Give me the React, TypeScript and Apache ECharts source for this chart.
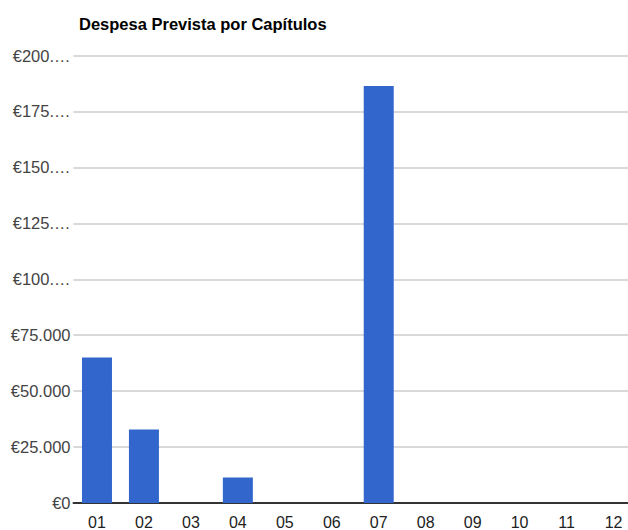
import React, { useEffect, useRef } from "react";
import * as echarts from "echarts";

const categories = ["01", "02", "03", "04", "05", "06", "07", "08", "09", "10", "11", "12"];
const values = [65000, 32800, 0, 11400, 0, 0, 186400, 0, 0, 0, 0, 0];
const yTickLabels = ["€0", "€25.000", "€50.000", "€75.000", "€100.…", "€125.…", "€150.…", "€175.…", "€200.…"];
const yStep = 25000;
const yMax = 200000;
const title = "Despesa Prevista por Capítulos";

const FONT = "'Liberation Sans', Arial, sans-serif";

export default function App() {
  const ref = useRef<HTMLDivElement>(null);
  useEffect(() => {
    if (!ref.current) return;
    const chart = echarts.init(ref.current, undefined, { renderer: "svg" });
    chart.setOption({
      animation: false,
      backgroundColor: "#ffffff",
      title: {
        text: title,
        left: 74,
        top: 10,
        textStyle: { fontFamily: FONT, fontSize: 16.5, fontWeight: "bold", color: "#000000" },
      },
      grid: { left: 73.5, right: 0, top: 55.5, bottom: 26.5, containLabel: false },
      xAxis: {
        type: "category",
        data: categories,
        axisTick: { show: false },
        axisLine: { show: true, lineStyle: { color: "#333333", width: 2 } },
        axisLabel: { fontFamily: FONT, fontSize: 16, color: "#222222", margin: 11, interval: 0 },
      },
      yAxis: {
        type: "value",
        min: 0,
        max: yMax,
        interval: yStep,
        axisLine: { show: false },
        axisTick: { show: false },
        splitLine: { lineStyle: { color: "#cccccc", width: 1.5 } },
        axisLabel: {
          fontFamily: FONT,
          fontSize: 16.5,
          color: "#444444",
          margin: 3,
          formatter: (v: number) => yTickLabels[Math.round(v / yStep)] ?? "",
        },
      },
      series: [
        {
          type: "bar",
          data: values,
          barWidth: 30,
          itemStyle: { color: "#3366cc" },
        },
      ],
    });
    return () => chart.dispose();
  }, []);
  return (
    <div style={{ position: "absolute", left: 0, top: 0, width: 628, height: 530, overflow: "hidden" }}>
      <div ref={ref} style={{ width: 637, height: 530 }} />
    </div>
  );
}
